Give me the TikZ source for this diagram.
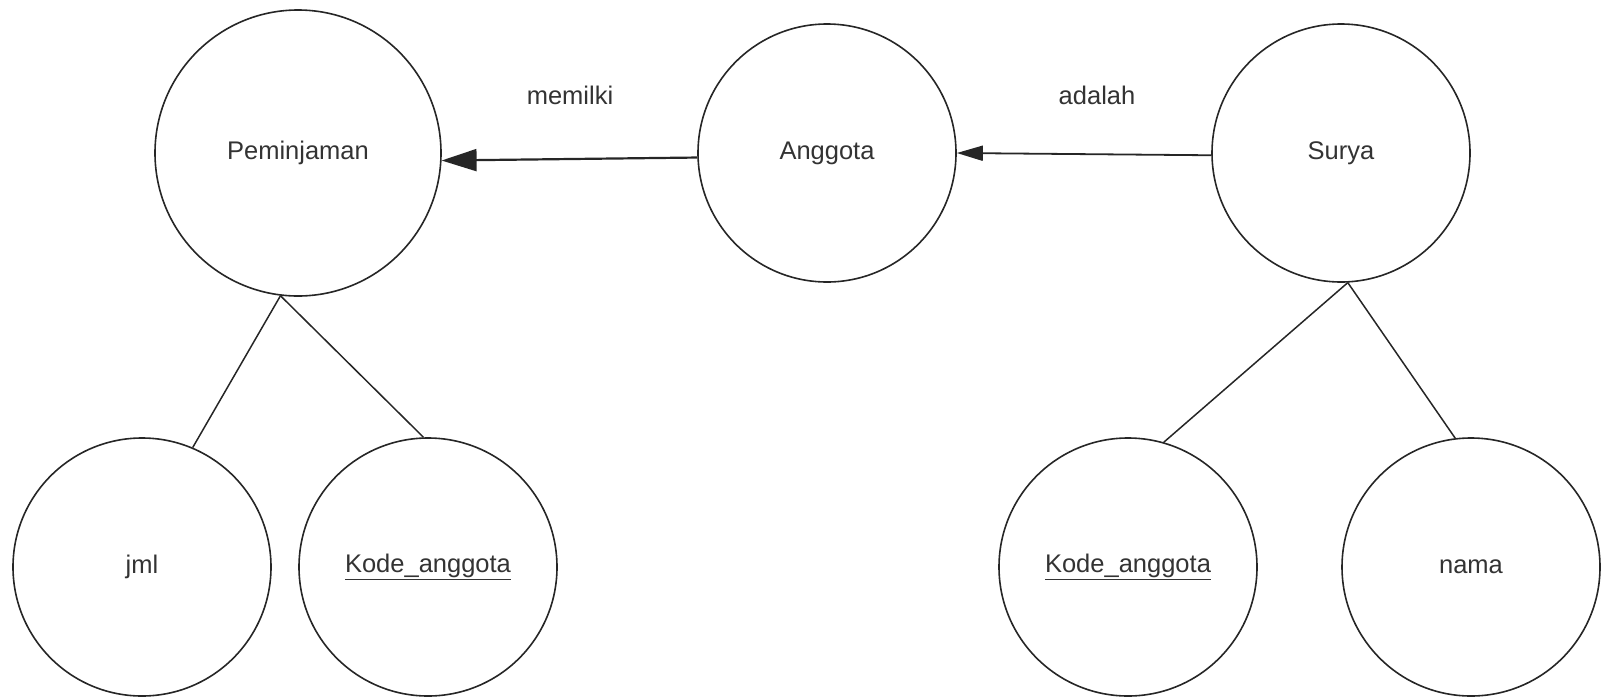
\documentclass[tikz,border=0pt]{standalone}
\usepackage{fontspec}
\setmainfont{Liberation Sans}
\usetikzlibrary{arrows.meta}
\begin{document}
\begin{tikzpicture}[x=1pt,y=-1pt,
  ent/.style={circle,draw=black!85,line width=1.6pt,inner sep=0pt,text=black!80,
    font=\fontsize{25.5}{30}\selectfont},
  big/.style={ent,minimum size=286pt},
  med/.style={ent,minimum size=258pt},
  link/.style={draw=black!85,line width=1.5pt},
  rel/.style={text=black!80,font=\fontsize{25.5}{30}\selectfont}]
\useasboundingbox (0,0) rectangle (1603,697);
\node[big] (pem) at (298,153) {Peminjaman};
\node[med] (ang) at (827,153) {Anggota};
\node[med] (sur) at (1341,153) {Surya};
\node[med] (jml) at (142,567) {jml};
\node[med] (kode1) at (428,567) {\underline{Kode\_anggota}};
\node[med] (kode2) at (1128,567) {\underline{Kode\_anggota}};
\node[med] (nama) at (1471,567) {nama};
\node[rel] (l1) at (570,95) {memilki};
\node[rel] (l2) at (1097,95) {adalah};
\draw[link,line width=2.2pt,-{Triangle[length=35pt,width=22pt]}] (ang.182) -- (pem.357.6);
\draw[link,line width=1.8pt,-{Triangle[length=26pt,width=15pt]}] (sur.181.8) -- (ang.0);
\draw[link] (pem.263) -- (jml.67.6);
\draw[link] (pem.263) -- (kode1.92);
\draw[link] (sur.273) -- (kode2.74);
\draw[link] (sur.273) -- (nama.97.6);
\end{tikzpicture}
\end{document}
